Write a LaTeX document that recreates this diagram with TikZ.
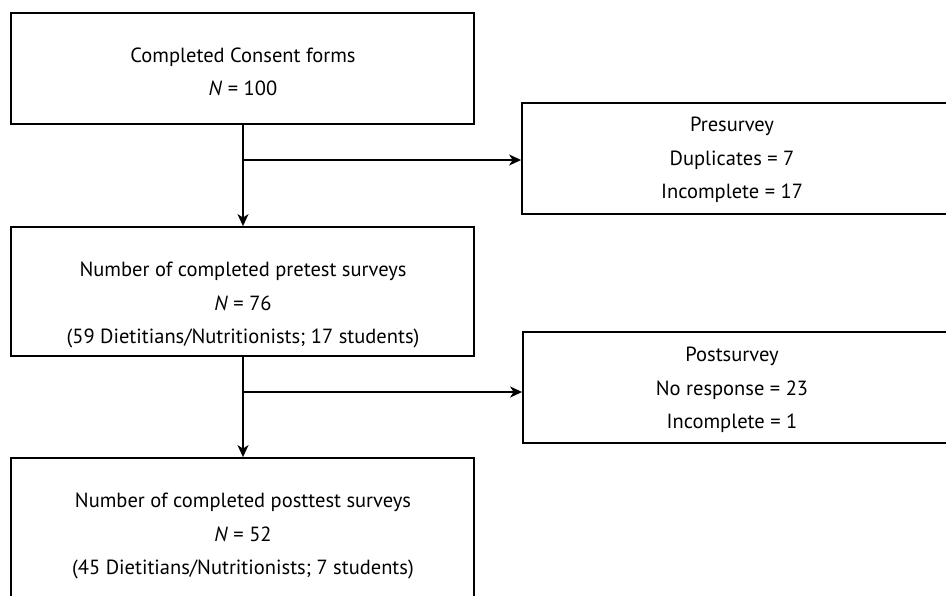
\documentclass[tikz,border=0pt]{standalone}
\usepackage{fontspec}
\setmainfont{PT Sans}
\usetikzlibrary{arrows.meta}
\begin{document}
\begin{tikzpicture}[x=1pt,y=-1pt,
  box/.style={draw=black,line width=1.8pt,rectangle,inner sep=0pt},
  txt/.style={align=center,font=\fontsize{20.5}{33.5}\selectfont,inner sep=0pt},
  arr/.style={line width=1.7pt,-{Stealth[length=12pt,width=11pt,inset=3.5pt]}}]
\useasboundingbox (0,0) rectangle (946,595);
\fill[white] (0,0) rectangle (946,595);
% boxes
\node[box,minimum width=463,minimum height=111] (b1) at (242.5,68.5) {};
\node[box,minimum width=440,minimum height=111] (pre) at (742,158.5) {};
\node[box,minimum width=463,minimum height=129] (b3) at (242.5,291.5) {};
\node[box,minimum width=440,minimum height=111] (post) at (743,387.5) {};
\node[box,minimum width=463,minimum height=170] (b5) at (242.5,543) {};
% texts
\node[txt] (t1) at (243,72) {Completed Consent forms\\\textit{N} = 100};
\node[txt] (tpre) at (732,160) {Presurvey\\Duplicates = 7\\Incomplete = 17};
\node[txt] (t3) at (243,305) {Number of completed pretest surveys\\\textit{N} = 76\\(59 Dietitians/Nutritionists; 17 students)};
\node[txt] (tpost) at (732,390) {Postsurvey\\No response = 23\\Incomplete = 1};
\node[txt] (t5) at (243,536) {Number of completed posttest surveys\\\textit{N} = 52\\(45 Dietitians/Nutritionists; 7 students)};
% connectors
\coordinate (j1) at (243,160);
\coordinate (j2) at (243,392);
\draw[arr] (b1.south -| j1) -- (b3.north -| j1);
\draw[arr] (j1) -- (j1 -| pre.west);
\draw[arr] (b3.south -| j2) -- (b5.north -| j2);
\draw[arr] (j2) -- (j2 -| post.west);
\end{tikzpicture}
\end{document}
